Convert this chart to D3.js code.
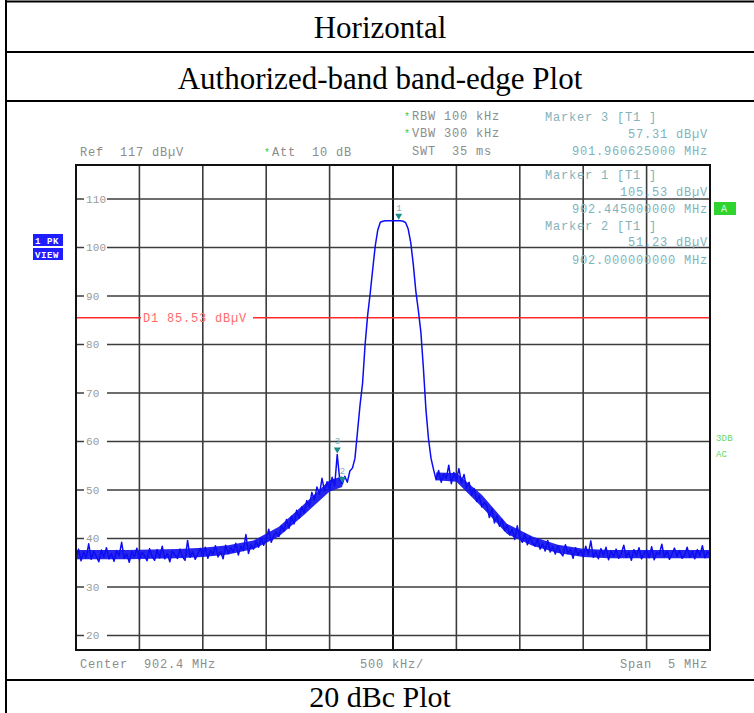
<!DOCTYPE html>
<html><head><meta charset="utf-8">
<script src="https://cdn.jsdelivr.net/npm/d3@7"></script>
<style>body{margin:0;background:#fff}svg{display:block}text{white-space:pre}</style>
</head><body>
<script>
// ---------- data ----------
const titleRows = ["Horizontal", "Authorized-band band-edge Plot", "20 dBc Plot"];
const startFreq = 899.9;      // MHz, left edge of sweep
const spanFreq = 5;           // MHz
const stepFreq = 0.02;        // MHz between sweep points
const traceLevels = [
 36.1,37.8,35.4,37.2,36.0,38.9,35.7,37.4,36.3,35.2,
 37.6,36.1,38.1,35.8,36.9,35.3,37.5,36.4,39.2,35.9,
 36.8,35.1,37.3,36.2,38.0,35.6,37.1,36.5,35.4,37.9,
 36.3,35.5,37.7,36.0,38.4,35.8,36.9,35.2,37.4,36.6,
 35.9,37.8,36.2,35.5,39.6,36.1,37.3,35.7,36.8,37.9,
 36.4,38.2,35.9,37.6,36.7,38.5,36.2,37.3,35.8,38.6,
 36.9,38.1,37.2,39.0,36.6,38.4,37.5,40.8,36.9,38.7,
 37.8,39.4,38.2,40.1,38.6,39.8,41.9,39.2,40.6,41.3,
 40.4,42.6,41.5,43.9,42.1,44.6,43.0,45.8,44.2,46.5,
 45.3,47.8,46.6,49.5,47.9,50.6,49.1,52.4,49.8,51.7,
 50.2,52.6,50.8,57.31,52.1,51.23,52.8,51.6,53.9,54.5,
 56.5,62.0,67.5,72.0,80.0,86.0,90.5,95.5,100.3,103.6,
 105.2,105.4,105.5,105.5,105.5,105.5,105.5,105.53,105.5,105.4,105.1,
 103.8,101.0,96.5,91.0,87.0,82.5,75.0,66.5,60.5,56.5,54.2,
 52.1,54.0,51.6,53.3,52.4,55.1,51.3,53.6,52.0,54.4,
 51.5,53.2,50.4,51.6,48.9,50.3,47.6,48.8,46.5,47.4,
 46.8,44.3,46.1,43.2,44.7,42.5,43.9,41.6,42.8,40.7,
 41.9,39.8,42.6,40.1,39.2,41.0,38.7,40.4,39.1,38.4,
 39.9,37.8,38.9,37.4,39.6,37.2,38.3,36.8,38.5,37.1,
 36.4,38.7,36.9,37.8,35.9,38.1,36.6,37.5,36.2,38.4,
 36.7,39.5,36.1,37.3,35.8,37.9,36.5,38.2,35.6,37.4,
 36.3,37.8,35.9,36.9,38.6,36.1,37.2,35.5,37.7,36.4,
 38.1,35.8,36.9,37.6,36.0,38.3,35.6,37.1,36.7,38.8,
 36.2,37.4,35.7,36.8,38.0,36.3,37.5,35.9,36.6,38.2,
 36.1,37.3,35.8,37.7,36.4,38.5,36.0,37.2,36.8
];
// dense noise band (lower / upper envelope of the trace)
const bandFreqs = [899.9,900.1,900.3,900.5,900.7,900.9,901.1,901.3,901.5,901.7,901.9,902.0,
                   null,
                   902.74,902.9,903.1,903.3,903.5,903.7,903.9,904.1,904.3,904.5,904.7,904.9];
const bandLow  = [35.7,35.7,35.7,35.8,35.9,36.2,36.7,37.8,40.4,44.9,49.7,50.6,
                  null,
                  52.0,51.7,46.5,40.9,38.5,37.0,36.2,35.9,35.9,35.9,35.9,35.9];
const bandHigh = [37.6,37.6,37.6,37.7,37.8,38.1,38.6,39.6,42.4,47.1,52.0,52.8,
                  null,
                  53.6,53.5,49.0,43.0,40.4,38.7,37.9,37.6,37.6,37.6,37.6,37.6];
const freqGrid = [899.9,900.4,900.9,901.4,901.9,902.4,902.9,903.4,903.9,904.4,904.9];
const levelTicks = [20,30,40,50,60,70,80,90,100,110];
const refLevel = 117, levelRange = 100;
const displayLineLevel = 85.53;
const markerIds = ["1","2","3"];
const markerFreqs = [902.445, 902.0, 901.960625];
const markerLevels = [105.53, 51.23, 57.31];
const markerInfo = [
  ["Marker 3 [T1 ]","57.31 dBµV","901.960625000 MHz"],
  ["Marker 1 [T1 ]","105.53 dBµV","902.445000000 MHz"],
  ["Marker 2 [T1 ]","51.23 dBµV","902.000000000 MHz"]
];
const settingsLeft = ["Ref  117 dBµV"];
const settingsMid = ["Att  10 dB"];
const settingsRight = ["RBW 100 kHz","VBW 300 kHz","SWT  35 ms"];
const footer = ["Center  902.4 MHz","500 kHz/","Span  5 MHz"];

// ---------- drawing ----------
const W = 754, H = 713;
const svg = d3.select("body").append("svg").attr("width", W).attr("height", H);
svg.append("rect").attr("width", W).attr("height", H).attr("fill", "#fff");

const plot = {left: 76, right: 710, top: 165, bottom: 650};
const x = d3.scaleLinear().domain([startFreq, startFreq + spanFreq]).range([plot.left, plot.right]);
const y = d3.scaleLinear().domain([refLevel - levelRange, refLevel]).range([plot.bottom, plot.top]);

// table
const tbl = svg.append("g").attr("stroke", "#000").attr("stroke-width", 2);
tbl.append("line").attr("x1", 5).attr("x2", W).attr("y1", 1.5).attr("y2", 1.5);
tbl.append("line").attr("x1", 6).attr("x2", 6).attr("y1", 0).attr("y2", H);
[52, 101, 680].forEach(yy => tbl.append("line").attr("x1", 5).attr("x2", W).attr("y1", yy).attr("y2", yy));
const titleY = [38, 89, 707];
const titleSize = [31, 31, 30];
titleRows.forEach((t, i) => svg.append("text").attr("x", 380).attr("y", titleY[i])
  .attr("text-anchor", "middle").attr("font-family", "'Liberation Serif', 'Times New Roman', serif")
  .attr("font-size", titleSize[i]).attr("fill", "#000").text(t));

const MONO = "'Liberation Mono', 'DejaVu Sans Mono', monospace";
function mono(g, xx, yy, str, color, size = 12, ls = 0.8) {
  return g.append("text").attr("x", xx).attr("y", yy).attr("font-family", MONO)
    .attr("font-size", size).attr("letter-spacing", ls).attr("fill", color).text(str);
}
const CH = 8; // char advance
const gray = "#8c8c8c", teal = "#7fb3bb", green = "#3dcc3d";

// grid
const grid = svg.append("g");
grid.selectAll("line.v").data(freqGrid.slice(1, -1)).join("line")
  .attr("x1", d => x(d)).attr("x2", d => x(d)).attr("y1", plot.top).attr("y2", plot.bottom)
  .attr("stroke", d => Math.abs(d - 902.4) < 1e-6 ? "#111" : "#3c3c3c")
  .attr("stroke-width", d => Math.abs(d - 902.4) < 1e-6 ? 2 : 1.6);
grid.selectAll("line.h").data(levelTicks).join("line")
  .attr("x1", plot.left).attr("x2", plot.right).attr("y1", d => y(d)).attr("y2", d => y(d))
  .attr("stroke", "#3c3c3c").attr("stroke-width", 1.6);
levelTicks.forEach(t => {
  grid.append("rect").attr("x", 84).attr("y", y(t) - 6).attr("width", 23).attr("height", 12).attr("fill", "#fff");
  mono(grid, 86, y(t) + 4, String(t), "#9a9a9a", 11, 0.2);
});

// header texts
const hdr = svg.append("g");
mono(hdr, 80, 156, settingsLeft[0], gray);
mono(hdr, 264, 156, "*", green, 10);
mono(hdr, 272, 156, settingsMid[0], gray);
mono(hdr, 404, 120, "*", green, 10);
mono(hdr, 412, 120, settingsRight[0], gray);
mono(hdr, 404, 137, "*", green, 10);
mono(hdr, 412, 137, settingsRight[1], gray);
mono(hdr, 412, 155, settingsRight[2], gray);

const mkY = [[121, 138, 155], [179, 196, 213], [230, 246, 264]];
markerInfo.forEach((m, i) => {
  mono(hdr, 545, mkY[i][0], m[0], teal);
  mono(hdr, 708 - m[1].length * CH, mkY[i][1], m[1], teal);
  mono(hdr, 708 - m[2].length * CH, mkY[i][2], m[2], teal);
});
mono(hdr, 80, 668, footer[0], gray);
mono(hdr, 360, 668, footer[1], gray);
mono(hdr, 708 - footer[2].length * CH, 668, footer[2], gray);

// side boxes
hdr.append("rect").attr("x", 714).attr("y", 202).attr("width", 22).attr("height", 13).attr("fill", "#2fd42f");
mono(hdr, 721, 212, "A", "#d9ffd9", 10, 0);
hdr.append("rect").attr("x", 33).attr("y", 234).attr("width", 30).attr("height", 12).attr("fill", "#1d1dff");
hdr.append("rect").attr("x", 33).attr("y", 248).attr("width", 30).attr("height", 12).attr("fill", "#1d1dff");
mono(hdr, 35, 243.5, "1 PK", "#fff", 9, 0.6).attr("font-weight", "bold");
mono(hdr, 35, 257.5, "VIEW", "#fff", 9, 0.6).attr("font-weight", "bold");
mono(hdr, 716, 441, "3DB", "#5fd85f", 9, 0.2);
mono(hdr, 716, 457, "AC", "#5fd85f", 9, 0.2);

// display line D1
const dy = y(displayLineLevel);
const d1 = mono(svg, 143, dy + 4, "D1 85.53 dBµV", "#ff6a6a");
const bb = d1.node().getBBox();
svg.append("line").attr("x1", plot.left).attr("x2", bb.x - 2).attr("y1", dy).attr("y2", dy)
  .attr("stroke", "#ff2a2a").attr("stroke-width", 1.5);
svg.append("line").attr("x1", bb.x + bb.width + 6).attr("x2", plot.right).attr("y1", dy).attr("y2", dy)
  .attr("stroke", "#ff2a2a").attr("stroke-width", 1.5);

// noise band
const band = d3.area().defined((d, i) => bandFreqs[i] !== null)
  .x((d, i) => x(bandFreqs[i])).y0((d, i) => y(bandLow[i])).y1((d, i) => y(bandHigh[i]));
svg.append("path").datum(bandFreqs).attr("d", band).attr("fill", "#1414ee").attr("opacity", 0.92);

// trace
const line = d3.line().x((d, i) => x(startFreq + i * stepFreq)).y(d => y(d));
svg.append("path").datum(traceLevels).attr("d", line).attr("fill", "none")
  .attr("stroke", "#0d0df2").attr("stroke-width", 1.5).attr("stroke-linejoin", "round");

// markers
markerIds.forEach((id, i) => {
  const mx = x(markerFreqs[i]), my = y(markerLevels[i]) - 1;
  svg.append("path").attr("d", `M${mx - 3.5},${my - 6}L${mx + 3.5},${my - 6}L${mx},${my}Z`).attr("fill", "#1b8c8c");
  mono(svg, mx - 2.5, my - 9, id, teal, 9, 0);
});

// frame
svg.append("rect").attr("x", plot.left).attr("y", plot.top).attr("width", plot.right - plot.left)
  .attr("height", plot.bottom - plot.top).attr("fill", "none").attr("stroke", "#111").attr("stroke-width", 2);
</script>
</body></html>
